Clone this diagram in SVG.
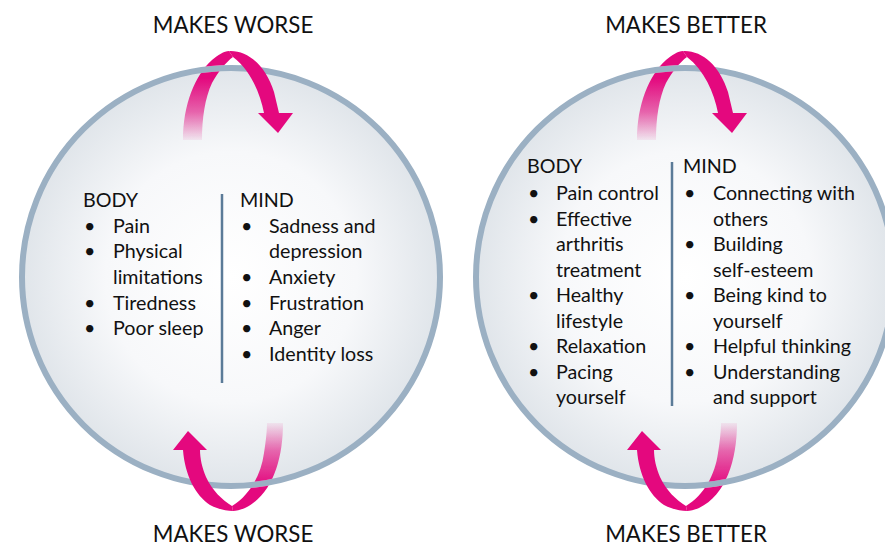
<svg xmlns="http://www.w3.org/2000/svg" xmlns:xlink="http://www.w3.org/1999/xlink" width="885" height="547" viewBox="0 0 885 547">
<style>
.t{font-family:Lato,'Liberation Sans',sans-serif;font-size:19.7px;fill:#111}
.title{font-family:Lato,'Liberation Sans',sans-serif;font-size:22.3px;fill:#111;text-anchor:middle}
.ring{stroke:#9bb0c3;stroke-width:6}
.div{stroke:#5b7b98;stroke-width:2.5}
.mag{fill:#e4087e}
</style>
<defs>
<radialGradient id="gFill" cx="0.5" cy="0.5" r="0.5">
<stop offset="0" stop-color="#ffffff"/>
<stop offset="0.6" stop-color="#f7f8fa"/>
<stop offset="1" stop-color="#e0e5ea"/>
</radialGradient>
<linearGradient id="gTop" gradientUnits="userSpaceOnUse" x1="0" y1="140" x2="0" y2="78">
<stop offset="0" stop-color="#e4087e" stop-opacity="0.06"/>
<stop offset="0.45" stop-color="#e4087e" stop-opacity="0.6"/>
<stop offset="1" stop-color="#e4087e" stop-opacity="1"/>
</linearGradient>
<linearGradient id="gBot" gradientUnits="userSpaceOnUse" x1="0" y1="423" x2="0" y2="486">
<stop offset="0" stop-color="#e4087e" stop-opacity="0.06"/>
<stop offset="0.45" stop-color="#e4087e" stop-opacity="0.6"/>
<stop offset="1" stop-color="#e4087e" stop-opacity="1"/>
</linearGradient>
<mask id="ringMask" maskUnits="userSpaceOnUse" x="0" y="0" width="885" height="547">
<rect x="0" y="0" width="885" height="547" fill="#fff"/>
<circle cx="231" cy="277" r="209" fill="none" stroke="#000" stroke-width="6"/>
</mask>
<g id="cycle">
<path d="M183,140 C183,105 195,75 212,60 C218,55 224,51 229,51 L233,57 C226,62 218,72 212,83 C205,98 202,118 202,140 Z" fill="url(#gTop)" mask="url(#ringMask)"/>
<path class="mag" d="M229,51 C248,50 266,66 274,92 L279,113 L293,113 L278,133 L258,113 L264,113 C260,92 250,70 233,57 Z"/>
<path d="M267,423 L283,423 C283,460 272,495 245,508 C240,510 236,511 233,511 L232,506 C250,495 261,475 264,453 C266,440 267,430 267,423 Z" fill="url(#gBot)" mask="url(#ringMask)"/>
<path class="mag" d="M183,450 L173,450 L188,431 L207,450 L200,450 C200,458 202,468 206,477 C212,490 222,500 232,506 L233,511 C226,511 218,509 210,505 C195,495 185,475 183,450 Z"/>
</g>
</defs>

<g id="worse-circle">
<circle cx="231" cy="277" r="209" fill="url(#gFill)" class="ring"/>
<line class="div" x1="222" y1="194" x2="222" y2="383"/>
<g id="worse-body">
<text class="t" x="83" y="207">BODY</text>
<text class="t" x="84" y="233">•</text><text class="t" x="113" y="233">Pain</text>
<text class="t" x="84" y="258">•</text><text class="t" x="113" y="258">Physical</text>
<text class="t" x="113" y="284">limitations</text>
<text class="t" x="84" y="310">•</text><text class="t" x="113" y="310">Tiredness</text>
<text class="t" x="84" y="335">•</text><text class="t" x="113" y="335">Poor sleep</text>
</g>
<g id="worse-mind">
<text class="t" x="240" y="207">MIND</text>
<text class="t" x="241" y="233">•</text><text class="t" x="269" y="233">Sadness and</text>
<text class="t" x="269" y="258">depression</text>
<text class="t" x="241" y="284">•</text><text class="t" x="269" y="284">Anxiety</text>
<text class="t" x="241" y="310">•</text><text class="t" x="269" y="310">Frustration</text>
<text class="t" x="241" y="335">•</text><text class="t" x="269" y="335">Anger</text>
<text class="t" x="241" y="361">•</text><text class="t" x="269" y="361">Identity loss</text>
</g>
</g>

<g id="better-circle">
<circle cx="685" cy="277" r="209" fill="url(#gFill)" class="ring"/>
<line class="div" x1="672" y1="162" x2="672" y2="406"/>
<g id="better-body">
<text class="t" x="527" y="173">BODY</text>
<text class="t" x="528" y="200">•</text><text class="t" x="556" y="200">Pain control</text>
<text class="t" x="528" y="226">•</text><text class="t" x="556" y="226">Effective</text>
<text class="t" x="556" y="251">arthritis</text>
<text class="t" x="556" y="277">treatment</text>
<text class="t" x="528" y="302">•</text><text class="t" x="556" y="302">Healthy</text>
<text class="t" x="556" y="328">lifestyle</text>
<text class="t" x="528" y="353">•</text><text class="t" x="556" y="353">Relaxation</text>
<text class="t" x="528" y="379">•</text><text class="t" x="556" y="379">Pacing</text>
<text class="t" x="556" y="404">yourself</text>
</g>
<g id="better-mind">
<text class="t" x="683" y="173">MIND</text>
<text class="t" x="684" y="200">•</text><text class="t" x="713" y="200">Connecting with</text>
<text class="t" x="713" y="226">others</text>
<text class="t" x="684" y="251">•</text><text class="t" x="713" y="251">Building</text>
<text class="t" x="713" y="277">self-esteem</text>
<text class="t" x="684" y="302">•</text><text class="t" x="713" y="302">Being kind to</text>
<text class="t" x="713" y="328">yourself</text>
<text class="t" x="684" y="353">•</text><text class="t" x="713" y="353">Helpful thinking</text>
<text class="t" x="684" y="379">•</text><text class="t" x="713" y="379">Understanding</text>
<text class="t" x="713" y="404">and support</text>
</g>
</g>

<g id="labels">
<text id="label-worse-top" class="title" x="233" y="33">MAKES WORSE</text>
<text id="label-worse-bottom" class="title" x="233" y="542">MAKES WORSE</text>
<text id="label-better-top" class="title" x="686" y="33">MAKES BETTER</text>
<text id="label-better-bottom" class="title" x="686" y="542">MAKES BETTER</text>
</g>

<g id="connectors">
<use xlink:href="#cycle"/>
<use xlink:href="#cycle" transform="translate(454,0)"/>
</g>
</svg>
